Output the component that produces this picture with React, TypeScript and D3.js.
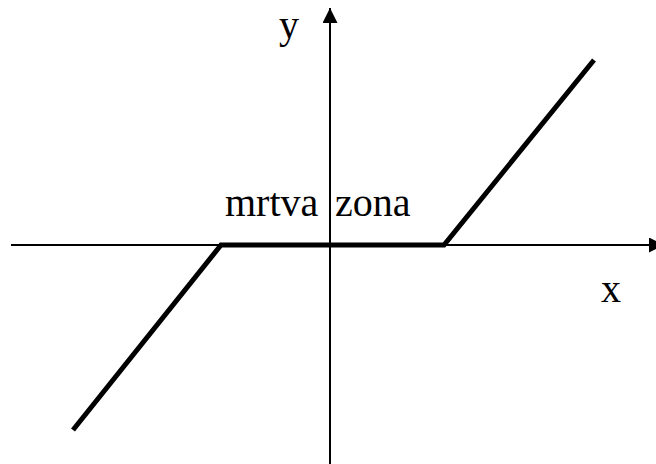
import React, { useEffect, useRef } from 'react';
import * as d3 from 'd3';

// dead-zone characteristic (arbitrary units)
const inputX = [-2.57, -1.09, 1.14, 2.64];
const outputY = [-1.85, 0, 0, 1.85];
const xDomain = [-3.19, 3.34];
const yDomain = [-2.19, 2.37];
const labels = { x: 'x', y: 'y', zoneLeft: 'mrtva', zoneRight: 'zona' };

const App = () => {
  const svgRef = useRef<SVGSVGElement | null>(null);

  useEffect(() => {
    const width = 656;
    const height = 464;

    d3.select(svgRef.current).selectAll('*').remove();

    const svg = d3.select(svgRef.current)
      .attr('width', width)
      .attr('height', height)
      .style('overflow', 'hidden');

    const x = d3.scaleLinear().domain(xDomain).range([11, 664]);
    const y = d3.scaleLinear().domain(yDomain).range([464, 8]);

    const defs = svg.append('defs');
    defs.append('marker')
      .attr('id', 'arrow')
      .attr('viewBox', '0 0 16 16')
      .attr('refX', 16)
      .attr('refY', 8)
      .attr('markerUnits', 'userSpaceOnUse')
      .attr('markerWidth', 16)
      .attr('markerHeight', 15)
      .attr('orient', 'auto')
      .append('path')
      .attr('d', 'M0,0L16,8L0,16Z')
      .attr('fill', '#000');

    // axes
    svg.append('line')
      .attr('x1', x(xDomain[0])).attr('y1', y(0))
      .attr('x2', x(xDomain[1])).attr('y2', y(0))
      .attr('stroke', '#000').attr('stroke-width', 2)
      .attr('marker-end', 'url(#arrow)');
    svg.append('line')
      .attr('x1', x(0)).attr('y1', y(yDomain[0]))
      .attr('x2', x(0)).attr('y2', y(yDomain[1]))
      .attr('stroke', '#000').attr('stroke-width', 2)
      .attr('marker-end', 'url(#arrow)');

    const line = d3.line<number>()
      .x((d, i) => x(inputX[i]))
      .y(d => y(d));

    svg.append('path')
      .datum(outputY)
      .attr('d', line)
      .attr('fill', 'none')
      .attr('stroke', '#000')
      .attr('stroke-width', 5)
      .attr('stroke-linejoin', 'miter');

    const font = '"Liberation Serif", "Times New Roman", serif';
    const addText = (tx: number, ty: number, s: string) =>
      svg.append('text')
        .attr('x', tx).attr('y', ty)
        .style('font-family', font).style('font-size', '40px')
        .text(s);

    addText(279, 38, labels.y);
    addText(601, 302, labels.x);
    addText(225, 216, labels.zoneLeft);
    addText(335, 216, labels.zoneRight);
  }, []);

  return (
    <div>
      <svg ref={svgRef} style={{ position: 'absolute', left: 0, top: 0 }}></svg>
    </div>
  );
};

export default App;
